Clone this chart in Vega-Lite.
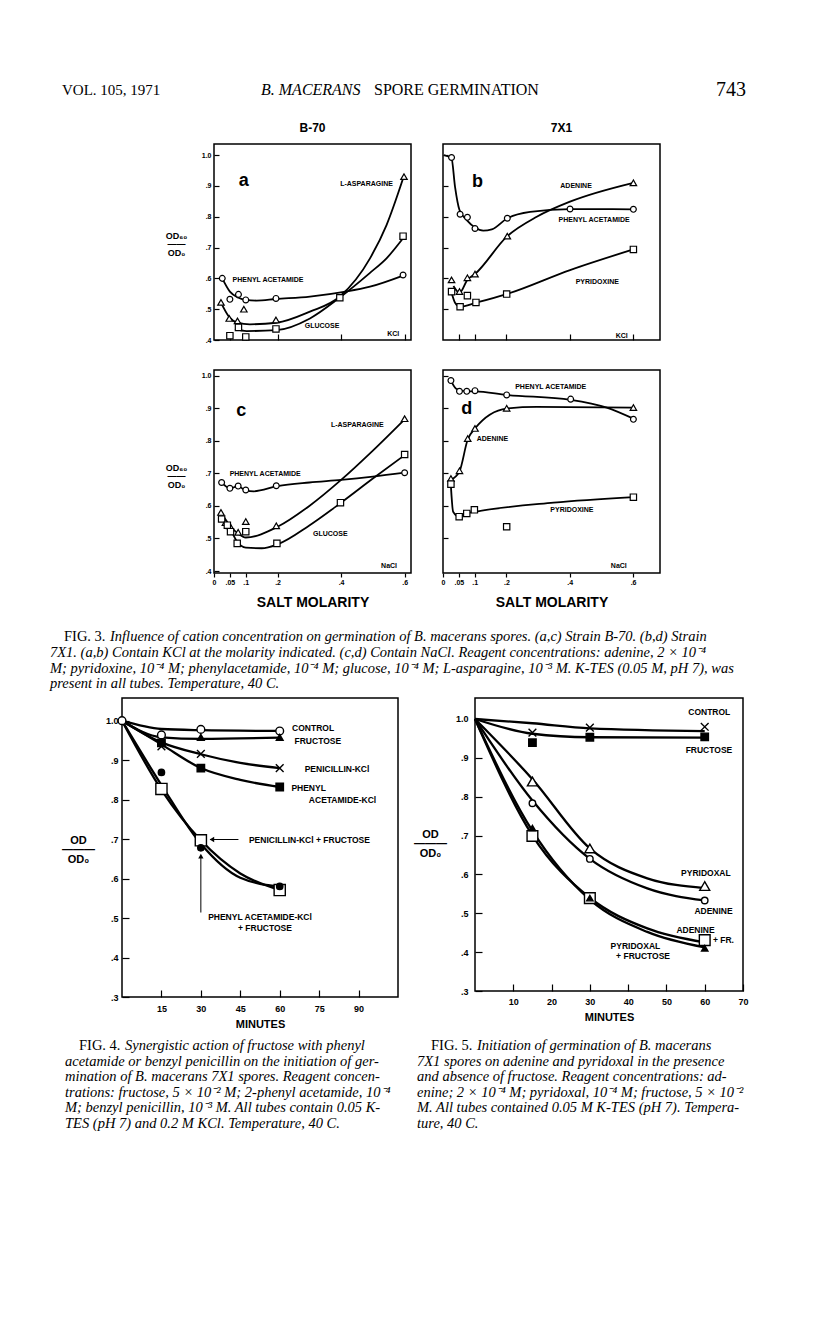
{
  "$schema": "https://vega.github.io/schema/vega-lite/v6.json",
  "background": "white",
  "padding": 0,
  "config": {
    "font": "Liberation Sans",
    "view": {"stroke": "black", "strokeWidth": 1.5},
    "axis": {"grid": false, "domain": false, "tickColor": "black", "tickWidth": 1.2, "labelColor": "black", "titleColor": "black", "labelFont": "Liberation Sans", "labelFontWeight": "bold", "titleFont": "Liberation Sans", "titleFontWeight": "bold"},
    "title": {"color": "black"}
  },
  "datasets": {
    "fit3": [
      {"p":"a","s":"PA","x":0.026,"y":0.600},{"p":"a","s":"PA","x":0.050,"y":0.557},{"p":"a","s":"PA","x":0.077,"y":0.537},{"p":"a","s":"PA","x":0.100,"y":0.530},{"p":"a","s":"PA","x":0.134,"y":0.528},{"p":"a","s":"PA","x":0.195,"y":0.533},{"p":"a","s":"PA","x":0.302,"y":0.541},{"p":"a","s":"PA","x":0.414,"y":0.557},{"p":"a","s":"PA","x":0.491,"y":0.573},{"p":"a","s":"PA","x":0.595,"y":0.609},
      {"p":"a","s":"LA","x":0.022,"y":0.521},{"p":"a","s":"LA","x":0.048,"y":0.474},{"p":"a","s":"LA","x":0.074,"y":0.456},{"p":"a","s":"LA","x":0.113,"y":0.451},{"p":"a","s":"LA","x":0.197,"y":0.456},{"p":"a","s":"LA","x":0.302,"y":0.492},{"p":"a","s":"LA","x":0.396,"y":0.541},{"p":"a","s":"LA","x":0.491,"y":0.665},{"p":"a","s":"LA","x":0.543,"y":0.773},{"p":"a","s":"LA","x":0.595,"y":0.924},
      {"p":"a","s":"GL","x":0.066,"y":0.435},{"p":"a","s":"GL","x":0.103,"y":0.429},{"p":"a","s":"GL","x":0.197,"y":0.432},{"p":"a","s":"GL","x":0.302,"y":0.470},{"p":"a","s":"GL","x":0.396,"y":0.538},{"p":"a","s":"GL","x":0.491,"y":0.618},{"p":"a","s":"GL","x":0.543,"y":0.665},{"p":"a","s":"GL","x":0.595,"y":0.730},
      {"p":"b","s":"PA","x":0.003,"y":1.0},{"p":"b","s":"PA","x":0.027,"y":0.989},{"p":"b","s":"PA","x":0.038,"y":0.897},{"p":"b","s":"PA","x":0.052,"y":0.822},{"p":"b","s":"PA","x":0.075,"y":0.789},{"p":"b","s":"PA","x":0.101,"y":0.765},{"p":"b","s":"PA","x":0.127,"y":0.755},{"p":"b","s":"PA","x":0.154,"y":0.759},{"p":"b","s":"PA","x":0.203,"y":0.795},{"p":"b","s":"PA","x":0.275,"y":0.816},{"p":"b","s":"PA","x":0.401,"y":0.825},{"p":"b","s":"PA","x":0.601,"y":0.824},
      {"p":"b","s":"AD","x":0.033,"y":0.575},{"p":"b","s":"AD","x":0.052,"y":0.553},{"p":"b","s":"AD","x":0.077,"y":0.595},{"p":"b","s":"AD","x":0.101,"y":0.614},{"p":"b","s":"AD","x":0.203,"y":0.737},{"p":"b","s":"AD","x":0.296,"y":0.800},{"p":"b","s":"AD","x":0.401,"y":0.849},{"p":"b","s":"AD","x":0.601,"y":0.910},
      {"p":"b","s":"PY","x":0.027,"y":0.554},{"p":"b","s":"PY","x":0.038,"y":0.521},{"p":"b","s":"PY","x":0.054,"y":0.508},{"p":"b","s":"PY","x":0.104,"y":0.521},{"p":"b","s":"PY","x":0.201,"y":0.549},{"p":"b","s":"PY","x":0.401,"y":0.627},{"p":"b","s":"PY","x":0.601,"y":0.694},
      {"p":"c","s":"PA","x":0.024,"y":0.672},{"p":"c","s":"PA","x":0.050,"y":0.654},{"p":"c","s":"PA","x":0.076,"y":0.661},{"p":"c","s":"PA","x":0.100,"y":0.647},{"p":"c","s":"PA","x":0.125,"y":0.645},{"p":"c","s":"PA","x":0.200,"y":0.661},{"p":"c","s":"PA","x":0.300,"y":0.672},{"p":"c","s":"PA","x":0.400,"y":0.680},{"p":"c","s":"PA","x":0.500,"y":0.690},{"p":"c","s":"PA","x":0.600,"y":0.702},
      {"p":"c","s":"LA","x":0.022,"y":0.580},{"p":"c","s":"LA","x":0.050,"y":0.540},{"p":"c","s":"LA","x":0.076,"y":0.515},{"p":"c","s":"LA","x":0.100,"y":0.503},{"p":"c","s":"LA","x":0.200,"y":0.536},{"p":"c","s":"LA","x":0.300,"y":0.600},{"p":"c","s":"LA","x":0.400,"y":0.680},{"p":"c","s":"LA","x":0.500,"y":0.770},{"p":"c","s":"LA","x":0.600,"y":0.866},
      {"p":"c","s":"GL","x":0.024,"y":0.557},{"p":"c","s":"GL","x":0.050,"y":0.530},{"p":"c","s":"GL","x":0.073,"y":0.490},{"p":"c","s":"GL","x":0.100,"y":0.472},{"p":"c","s":"GL","x":0.150,"y":0.470},{"p":"c","s":"GL","x":0.200,"y":0.482},{"p":"c","s":"GL","x":0.300,"y":0.540},{"p":"c","s":"GL","x":0.400,"y":0.610},{"p":"c","s":"GL","x":0.500,"y":0.684},{"p":"c","s":"GL","x":0.600,"y":0.756},
      {"p":"d","s":"PA","x":0.025,"y":0.985},{"p":"d","s":"PA","x":0.043,"y":0.959},{"p":"d","s":"PA","x":0.075,"y":0.952},{"p":"d","s":"PA","x":0.101,"y":0.952},{"p":"d","s":"PA","x":0.201,"y":0.941},{"p":"d","s":"PA","x":0.403,"y":0.926},{"p":"d","s":"PA","x":0.517,"y":0.902},{"p":"d","s":"PA","x":0.601,"y":0.868},
      {"p":"d","s":"AD","x":0.025,"y":0.680},{"p":"d","s":"AD","x":0.052,"y":0.706},{"p":"d","s":"AD","x":0.078,"y":0.804},{"p":"d","s":"AD","x":0.101,"y":0.838},{"p":"d","s":"AD","x":0.201,"y":0.899},{"p":"d","s":"AD","x":0.296,"y":0.904},{"p":"d","s":"AD","x":0.601,"y":0.902},
      {"p":"d","s":"PY","x":0.025,"y":0.660},{"p":"d","s":"PY","x":0.032,"y":0.582},{"p":"d","s":"PY","x":0.051,"y":0.567},{"p":"d","s":"PY","x":0.075,"y":0.577},{"p":"d","s":"PY","x":0.101,"y":0.582},{"p":"d","s":"PY","x":0.349,"y":0.610},{"p":"d","s":"PY","x":0.601,"y":0.627}
    ],
    "pts3": [
      {"p":"a","s":"PA","x":0.026,"y":0.600},{"p":"a","s":"PA","x":0.050,"y":0.532},{"p":"a","s":"PA","x":0.077,"y":0.548},{"p":"a","s":"PA","x":0.100,"y":0.530},{"p":"a","s":"PA","x":0.195,"y":0.535},{"p":"a","s":"PA","x":0.595,"y":0.611},
      {"p":"a","s":"LA","x":0.022,"y":0.522},{"p":"a","s":"LA","x":0.048,"y":0.470},{"p":"a","s":"LA","x":0.074,"y":0.462},{"p":"a","s":"LA","x":0.094,"y":0.500},{"p":"a","s":"LA","x":0.195,"y":0.465},{"p":"a","s":"LA","x":0.598,"y":0.930},
      {"p":"a","s":"GL","x":0.050,"y":0.414},{"p":"a","s":"GL","x":0.077,"y":0.441},{"p":"a","s":"GL","x":0.100,"y":0.410},{"p":"a","s":"GL","x":0.195,"y":0.436},{"p":"a","s":"GL","x":0.396,"y":0.537},{"p":"a","s":"GL","x":0.595,"y":0.737},
      {"p":"b","s":"PA","x":0.027,"y":0.992},{"p":"b","s":"PA","x":0.054,"y":0.808},{"p":"b","s":"PA","x":0.077,"y":0.798},{"p":"b","s":"PA","x":0.101,"y":0.762},{"p":"b","s":"PA","x":0.203,"y":0.795},{"p":"b","s":"PA","x":0.401,"y":0.825},{"p":"b","s":"PA","x":0.601,"y":0.824},
      {"p":"b","s":"AD","x":0.027,"y":0.595},{"p":"b","s":"AD","x":0.052,"y":0.557},{"p":"b","s":"AD","x":0.077,"y":0.602},{"p":"b","s":"AD","x":0.101,"y":0.614},{"p":"b","s":"AD","x":0.203,"y":0.737},{"p":"b","s":"AD","x":0.601,"y":0.910},
      {"p":"b","s":"PY","x":0.027,"y":0.557},{"p":"b","s":"PY","x":0.054,"y":0.508},{"p":"b","s":"PY","x":0.077,"y":0.544},{"p":"b","s":"PY","x":0.104,"y":0.522},{"p":"b","s":"PY","x":0.201,"y":0.549},{"p":"b","s":"PY","x":0.601,"y":0.694},
      {"p":"c","s":"PA","x":0.024,"y":0.672},{"p":"c","s":"PA","x":0.050,"y":0.654},{"p":"c","s":"PA","x":0.076,"y":0.661},{"p":"c","s":"PA","x":0.100,"y":0.649},{"p":"c","s":"PA","x":0.196,"y":0.662},{"p":"c","s":"PA","x":0.600,"y":0.702},
      {"p":"c","s":"LA","x":0.022,"y":0.580},{"p":"c","s":"LA","x":0.036,"y":0.549},{"p":"c","s":"LA","x":0.050,"y":0.539},{"p":"c","s":"LA","x":0.076,"y":0.519},{"p":"c","s":"LA","x":0.100,"y":0.552},{"p":"c","s":"LA","x":0.196,"y":0.539},{"p":"c","s":"LA","x":0.600,"y":0.868},
      {"p":"c","s":"GL","x":0.024,"y":0.560},{"p":"c","s":"GL","x":0.042,"y":0.541},{"p":"c","s":"GL","x":0.052,"y":0.521},{"p":"c","s":"GL","x":0.073,"y":0.485},{"p":"c","s":"GL","x":0.100,"y":0.521},{"p":"c","s":"GL","x":0.198,"y":0.485},{"p":"c","s":"GL","x":0.398,"y":0.610},{"p":"c","s":"GL","x":0.600,"y":0.758},
      {"p":"d","s":"PA","x":0.025,"y":0.985},{"p":"d","s":"PA","x":0.052,"y":0.952},{"p":"d","s":"PA","x":0.075,"y":0.952},{"p":"d","s":"PA","x":0.101,"y":0.954},{"p":"d","s":"PA","x":0.201,"y":0.941},{"p":"d","s":"PA","x":0.403,"y":0.928},{"p":"d","s":"PA","x":0.601,"y":0.866},
      {"p":"d","s":"AD","x":0.025,"y":0.684},{"p":"d","s":"AD","x":0.052,"y":0.708},{"p":"d","s":"AD","x":0.078,"y":0.807},{"p":"d","s":"AD","x":0.101,"y":0.838},{"p":"d","s":"AD","x":0.201,"y":0.900},{"p":"d","s":"AD","x":0.601,"y":0.902},
      {"p":"d","s":"PY","x":0.025,"y":0.667},{"p":"d","s":"PY","x":0.051,"y":0.567},{"p":"d","s":"PY","x":0.075,"y":0.577},{"p":"d","s":"PY","x":0.099,"y":0.588},{"p":"d","s":"PY","x":0.201,"y":0.536},{"p":"d","s":"PY","x":0.601,"y":0.627}
    ],
    "lab3": [
      {"p":"a","t":"L-ASPARAGINE","x":0.48,"y":0.905},{"p":"a","t":"PHENYL ACETAMIDE","x":0.17,"y":0.595},{"p":"a","t":"GLUCOSE","x":0.34,"y":0.445},{"p":"a","t":"KCl","x":0.564,"y":0.419},
      {"p":"b","t":"ADENINE","x":0.42,"y":0.9},{"p":"b","t":"PHENYL ACETAMIDE","x":0.477,"y":0.789},{"p":"b","t":"PYRIDOXINE","x":0.487,"y":0.587},{"p":"b","t":"KCl","x":0.564,"y":0.413},
      {"p":"c","t":"L-ASPARAGINE","x":0.451,"y":0.849},{"p":"c","t":"PHENYL ACETAMIDE","x":0.161,"y":0.697},{"p":"c","t":"GLUCOSE","x":0.366,"y":0.514},{"p":"c","t":"NaCl","x":0.551,"y":0.417},
      {"p":"d","t":"PHENYL ACETAMIDE","x":0.34,"y":0.966},{"p":"d","t":"ADENINE","x":0.156,"y":0.807},{"p":"d","t":"PYRIDOXINE","x":0.407,"y":0.588},{"p":"d","t":"NaCl","x":0.555,"y":0.414}
    ],
    "let3": [
      {"p":"a","t":"a","x":0.094,"y":0.916},{"p":"b","t":"b","x":0.109,"y":0.914},{"p":"c","t":"c","x":0.086,"y":0.891},{"p":"d","t":"d","x":0.075,"y":0.897}
    ],
    "fit4": [
      {"s":"CTL","x":0,"y":1.0},{"s":"CTL","x":15,"y":0.979},{"s":"CTL","x":30,"y":0.976},{"s":"CTL","x":60,"y":0.974},
      {"s":"FRU","x":0,"y":1.0},{"s":"FRU","x":15,"y":0.958},{"s":"FRU","x":30,"y":0.954},{"s":"FRU","x":60,"y":0.957},
      {"s":"PEN","x":0,"y":1.0},{"s":"PEN","x":15,"y":0.945},{"s":"PEN","x":30,"y":0.915},{"s":"PEN","x":45,"y":0.893},{"s":"PEN","x":60,"y":0.88},
      {"s":"PAK","x":0,"y":1.0},{"s":"PAK","x":15,"y":0.94},{"s":"PAK","x":30,"y":0.88},{"s":"PAK","x":45,"y":0.85},{"s":"PAK","x":60,"y":0.832},
      {"s":"PENF","x":0,"y":1.0},{"s":"PENF","x":15,"y":0.825},{"s":"PENF","x":30,"y":0.697},{"s":"PENF","x":45,"y":0.613},{"s":"PENF","x":60,"y":0.571},
      {"s":"PAKF","x":0,"y":1.0},{"s":"PAKF","x":15,"y":0.837},{"s":"PAKF","x":30,"y":0.688},{"s":"PAKF","x":45,"y":0.602},{"s":"PAKF","x":60,"y":0.58}
    ],
    "pts4": [
      {"s":"CTL","x":0,"y":1.0},{"s":"CTL","x":15,"y":0.964},{"s":"CTL","x":30,"y":0.978},{"s":"CTL","x":60,"y":0.974},
      {"s":"FRU","x":30,"y":0.958},{"s":"FRU","x":60,"y":0.958},
      {"s":"PEN","x":15,"y":0.935},{"s":"PEN","x":30,"y":0.916},{"s":"PEN","x":60,"y":0.88},
      {"s":"PAK","x":15,"y":0.944},{"s":"PAK","x":30,"y":0.88},{"s":"PAK","x":60,"y":0.832},
      {"s":"PENF","x":15,"y":0.827},{"s":"PENF","x":30,"y":0.697},{"s":"PENF","x":60,"y":0.571},
      {"s":"PAKF","x":15,"y":0.869},{"s":"PAKF","x":30,"y":0.678},{"s":"PAKF","x":60,"y":0.58}
    ],
    "lab4": [
      {"t":"CONTROL","x":72.7,"y":0.982},{"t":"FRUCTOSE","x":74.5,"y":0.949},{"t":"PENICILLIN-KCl","x":81.8,"y":0.877},{"t":"PHENYL","x":71.0,"y":0.829},{"t":"ACETAMIDE-KCl","x":83.9,"y":0.8},{"t":"PENICILLIN-KCl + FRUCTOSE","x":71.3,"y":0.699},{"t":"PHENYL ACETAMIDE-KCl","x":52.5,"y":0.503},{"t":"+ FRUCTOSE","x":54.4,"y":0.476}
    ],
    "fit5": [
      {"s":"C5","x":0,"y":1.0},{"s":"C5","x":15,"y":0.989},{"s":"C5","x":30,"y":0.976},{"s":"C5","x":60,"y":0.969},
      {"s":"F5","x":0,"y":1.0},{"s":"F5","x":15,"y":0.962},{"s":"F5","x":30,"y":0.953},{"s":"F5","x":60,"y":0.952},
      {"s":"PYR","x":0,"y":1.0},{"s":"PYR","x":15,"y":0.845},{"s":"PYR","x":30,"y":0.667},{"s":"PYR","x":45,"y":0.59},{"s":"PYR","x":60,"y":0.565},
      {"s":"ADE","x":0,"y":1.0},{"s":"ADE","x":15,"y":0.79},{"s":"ADE","x":30,"y":0.64},{"s":"ADE","x":45,"y":0.564},{"s":"ADE","x":60,"y":0.533},
      {"s":"ADEF","x":0,"y":1.0},{"s":"ADEF","x":15,"y":0.70},{"s":"ADEF","x":30,"y":0.54},{"s":"ADEF","x":45,"y":0.461},{"s":"ADEF","x":60,"y":0.425},
      {"s":"PYRF","x":0,"y":1.0},{"s":"PYRF","x":15,"y":0.712},{"s":"PYRF","x":30,"y":0.535},{"s":"PYRF","x":45,"y":0.452},{"s":"PYRF","x":60,"y":0.412}
    ],
    "pts5": [
      {"s":"C5","x":15,"y":0.965},{"s":"C5","x":30,"y":0.978},{"s":"C5","x":60,"y":0.98},
      {"s":"F5","x":15,"y":0.939},{"s":"F5","x":30,"y":0.953},{"s":"F5","x":60,"y":0.954},
      {"s":"PYR","x":15,"y":0.839},{"s":"PYR","x":30,"y":0.667},{"s":"PYR","x":60,"y":0.570},
      {"s":"ADE","x":15,"y":0.783},{"s":"ADE","x":30,"y":0.640},{"s":"ADE","x":60,"y":0.533},
      {"s":"ADEF","x":15,"y":0.699},{"s":"ADEF","x":30,"y":0.539},{"s":"ADEF","x":60,"y":0.431},
      {"s":"PYRF","x":15,"y":0.719},{"s":"PYRF","x":30,"y":0.539},{"s":"PYRF","x":60,"y":0.41}
    ],
    "lab5": [
      {"t":"CONTROL","x":61.2,"y":1.018},{"t":"FRUCTOSE","x":61.1,"y":0.92},{"t":"PYRIDOXAL","x":60.3,"y":0.604},{"t":"ADENINE","x":62.3,"y":0.507},{"t":"ADENINE","x":57.6,"y":0.457},{"t":"+ FR.","x":64.9,"y":0.431},{"t":"PYRIDOXAL","x":41.9,"y":0.417},{"t":"+ FRUCTOSE","x":43.9,"y":0.391}
    ]
  },
  "bounds": "flush",
  "spacing": 0,
  "resolve": {"scale": {"shape": "independent", "size": "independent", "fill": "independent"}},
  "vconcat": [
    {
      "width": 816, "height": 144,
      "view": {"stroke": null, "fill": "white"},
      "data": {"values": [{}]},
      "layer": [
        {"mark": {"type": "text", "x": 62, "y": 95, "align": "left", "baseline": "alphabetic", "font": "Liberation Serif", "fontSize": 15, "color": "black", "text": "VOL. 105, 1971"}},
        {"mark": {"type": "text", "x": 261, "y": 95, "align": "left", "baseline": "alphabetic", "font": "Liberation Serif", "fontStyle": "italic", "fontSize": 16, "color": "black", "text": "B. MACERANS"}},
        {"mark": {"type": "text", "x": 374, "y": 95, "align": "left", "baseline": "alphabetic", "font": "Liberation Serif", "fontSize": 16, "color": "black", "text": "SPORE GERMINATION"}},
        {"mark": {"type": "text", "x": 746, "y": 96, "align": "right", "baseline": "alphabetic", "font": "Liberation Serif", "fontSize": 20, "color": "black", "text": "743"}}
      ]
    },
    {
      "bounds": "flush", "spacing": 32,
      "resolve": {"scale": {"shape": "independent", "size": "independent", "fill": "independent"}},
      "hconcat": [
        {"width": 182, "height": 10, "view": {"stroke": null}, "data": {"values": [{}]}, "mark": {"type": "text", "text": " "}},
        {
          "width": 197, "height": 196,
          "title": {"text": "B-70", "font": "Liberation Sans", "fontSize": 12, "fontWeight": "bold", "offset": 9, "color": "black"},
          "encoding": {
            "x": {"field": "x", "type": "quantitative", "scale": {"domain": [0, 0.62], "nice": false, "zero": false}, "axis": {"values": [0.05, 0.1, 0.2, 0.4, 0.6], "labels": false, "tickSize": -6, "title": null}},
            "y": {"field": "y", "type": "quantitative", "scale": {"domain": [0.4, 1.036], "nice": false, "zero": false}, "axis": {"values": [0.4, 0.5, 0.6, 0.7, 0.8, 0.9, 1.0], "labelExpr": "replace(format(datum.value, '.1f'), '0.', '.')", "labelFontSize": 7, "tickSize": -5, "labelPadding": 8, "title": ["OD₆₀", "——", "OD₀"], "titleAngle": 0, "titleX": -38, "titleY": 91, "titleAlign": "center", "titleBaseline": "middle", "titleFontSize": 9, "titleLineHeight": 8.5}}
          },
          "layer": [
            {"data": {"name": "fit3"}, "transform": [{"filter": "datum.p === 'a'"}], "mark": {"type": "line", "interpolate": "monotone", "color": "black", "strokeWidth": 1.8}, "encoding": {"detail": {"field": "s"}}},
            {"data": {"name": "pts3"}, "transform": [{"filter": "datum.p === 'a'"}], "mark": {"type": "point", "filled": true, "fill": "white", "stroke": "black", "strokeWidth": 1.2, "opacity": 1},
             "encoding": {"shape": {"field": "s", "type": "nominal", "scale": {"domain": ["PA", "LA", "GL", "AD", "PY"], "range": ["circle", "triangle-up", "square", "triangle-up", "square"]}, "legend": null},
                          "size": {"field": "s", "type": "nominal", "scale": {"type": "ordinal", "domain": ["PA", "LA", "GL", "AD", "PY"], "range": [34, 42, 40, 42, 40]}, "legend": null}}},
            {"data": {"name": "lab3"}, "transform": [{"filter": "datum.p === 'a'"}], "mark": {"type": "text", "font": "Liberation Sans", "fontSize": 7, "fontWeight": "bold", "color": "black"}, "encoding": {"text": {"field": "t"}}},
            {"data": {"name": "let3"}, "transform": [{"filter": "datum.p === 'a'"}], "mark": {"type": "text", "font": "Liberation Sans", "fontSize": 18, "fontWeight": "bold", "color": "black"}, "encoding": {"text": {"field": "t"}}}
          ]
        },
        {
          "width": 217, "height": 196,
          "title": {"text": "7X1", "font": "Liberation Sans", "fontSize": 12, "fontWeight": "bold", "offset": 9, "dx": 10, "color": "black"},
          "encoding": {
            "x": {"field": "x", "type": "quantitative", "scale": {"domain": [0, 0.685], "nice": false, "zero": false}, "axis": {"values": [0.05, 0.1, 0.2, 0.4, 0.6], "labels": false, "tickSize": -6, "title": null}},
            "y": {"field": "y", "type": "quantitative", "scale": {"domain": [0.4, 1.036], "nice": false, "zero": false}, "axis": {"values": [0.5, 0.6, 0.7, 0.8, 0.9, 1.0], "labels": false, "tickSize": -5, "title": null}}
          },
          "layer": [
            {"data": {"name": "fit3"}, "transform": [{"filter": "datum.p === 'b'"}], "mark": {"type": "line", "interpolate": "monotone", "color": "black", "strokeWidth": 1.8}, "encoding": {"detail": {"field": "s"}}},
            {"data": {"name": "pts3"}, "transform": [{"filter": "datum.p === 'b'"}], "mark": {"type": "point", "filled": true, "fill": "white", "stroke": "black", "strokeWidth": 1.2, "opacity": 1},
             "encoding": {"shape": {"field": "s", "type": "nominal", "scale": {"domain": ["PA", "LA", "GL", "AD", "PY"], "range": ["circle", "triangle-up", "square", "triangle-up", "square"]}, "legend": null},
                          "size": {"field": "s", "type": "nominal", "scale": {"type": "ordinal", "domain": ["PA", "LA", "GL", "AD", "PY"], "range": [34, 42, 40, 42, 40]}, "legend": null}}},
            {"data": {"name": "lab3"}, "transform": [{"filter": "datum.p === 'b'"}], "mark": {"type": "text", "font": "Liberation Sans", "fontSize": 7, "fontWeight": "bold", "color": "black"}, "encoding": {"text": {"field": "t"}}},
            {"data": {"name": "let3"}, "transform": [{"filter": "datum.p === 'b'"}], "mark": {"type": "text", "font": "Liberation Sans", "fontSize": 18, "fontWeight": "bold", "color": "black"}, "encoding": {"text": {"field": "t"}}}
          ]
        }
      ]
    },
    {"width": 1, "height": 226, "view": {"stroke": null}, "data": {"values": [{}]}, "mark": {"type": "text", "text": " "}},
    {
      "bounds": "flush", "spacing": 32,
      "resolve": {"scale": {"shape": "independent", "size": "independent", "fill": "independent"}},
      "hconcat": [
        {"width": 182, "height": 10, "view": {"stroke": null}, "data": {"values": [{}]}, "mark": {"type": "text", "text": " "}},
        {
          "width": 197, "height": 203,
          "encoding": {
            "x": {"field": "x", "type": "quantitative", "scale": {"domain": [0, 0.62], "nice": false, "zero": false}, "axis": {"values": [0, 0.05, 0.1, 0.2, 0.4, 0.6], "labelExpr": "datum.value == 0 ? '0' : replace(format(datum.value, '.2~f'), '0.', '.')", "labelFontSize": 7, "labelFlush": false, "tickSize": 4, "labelPadding": 1, "title": "SALT MOLARITY", "titleFontSize": 14, "titlePadding": 10}},
            "y": {"field": "y", "type": "quantitative", "scale": {"domain": [0.394, 1.0175], "nice": false, "zero": false}, "axis": {"values": [0.4, 0.5, 0.6, 0.7, 0.8, 0.9, 1.0], "labelExpr": "replace(format(datum.value, '.1f'), '0.', '.')", "labelFontSize": 7, "tickSize": -5, "labelPadding": 8, "title": ["OD₆₀", "——", "OD₀"], "titleAngle": 0, "titleX": -38, "titleY": 97, "titleAlign": "center", "titleBaseline": "middle", "titleFontSize": 9, "titleLineHeight": 8.5}}
          },
          "layer": [
            {"data": {"name": "fit3"}, "transform": [{"filter": "datum.p === 'c'"}], "mark": {"type": "line", "interpolate": "monotone", "color": "black", "strokeWidth": 1.8}, "encoding": {"detail": {"field": "s"}}},
            {"data": {"name": "pts3"}, "transform": [{"filter": "datum.p === 'c'"}], "mark": {"type": "point", "filled": true, "fill": "white", "stroke": "black", "strokeWidth": 1.2, "opacity": 1},
             "encoding": {"shape": {"field": "s", "type": "nominal", "scale": {"domain": ["PA", "LA", "GL", "AD", "PY"], "range": ["circle", "triangle-up", "square", "triangle-up", "square"]}, "legend": null},
                          "size": {"field": "s", "type": "nominal", "scale": {"type": "ordinal", "domain": ["PA", "LA", "GL", "AD", "PY"], "range": [34, 42, 40, 42, 40]}, "legend": null}}},
            {"data": {"name": "lab3"}, "transform": [{"filter": "datum.p === 'c'"}], "mark": {"type": "text", "font": "Liberation Sans", "fontSize": 7, "fontWeight": "bold", "color": "black"}, "encoding": {"text": {"field": "t"}}},
            {"data": {"name": "let3"}, "transform": [{"filter": "datum.p === 'c'"}], "mark": {"type": "text", "font": "Liberation Sans", "fontSize": 18, "fontWeight": "bold", "color": "black"}, "encoding": {"text": {"field": "t"}}}
          ]
        },
        {
          "width": 217, "height": 203,
          "encoding": {
            "x": {"field": "x", "type": "quantitative", "scale": {"domain": [0, 0.685], "nice": false, "zero": false}, "axis": {"values": [0, 0.05, 0.1, 0.2, 0.4, 0.6], "labelExpr": "datum.value == 0 ? '0' : replace(format(datum.value, '.2~f'), '0.', '.')", "labelFontSize": 7, "labelFlush": false, "tickSize": 4, "labelPadding": 1, "title": "SALT MOLARITY", "titleFontSize": 14, "titlePadding": 10}},
            "y": {"field": "y", "type": "quantitative", "scale": {"domain": [0.394, 1.0175], "nice": false, "zero": false}, "axis": {"values": [0.5, 0.6, 0.7, 0.8, 0.9, 1.0], "labels": false, "tickSize": -5, "title": null}}
          },
          "layer": [
            {"data": {"name": "fit3"}, "transform": [{"filter": "datum.p === 'd'"}], "mark": {"type": "line", "interpolate": "monotone", "color": "black", "strokeWidth": 1.8}, "encoding": {"detail": {"field": "s"}}},
            {"data": {"name": "pts3"}, "transform": [{"filter": "datum.p === 'd'"}], "mark": {"type": "point", "filled": true, "fill": "white", "stroke": "black", "strokeWidth": 1.2, "opacity": 1},
             "encoding": {"shape": {"field": "s", "type": "nominal", "scale": {"domain": ["PA", "LA", "GL", "AD", "PY"], "range": ["circle", "triangle-up", "square", "triangle-up", "square"]}, "legend": null},
                          "size": {"field": "s", "type": "nominal", "scale": {"type": "ordinal", "domain": ["PA", "LA", "GL", "AD", "PY"], "range": [34, 42, 40, 42, 40]}, "legend": null}}},
            {"data": {"name": "lab3"}, "transform": [{"filter": "datum.p === 'd'"}], "mark": {"type": "text", "font": "Liberation Sans", "fontSize": 7, "fontWeight": "bold", "color": "black"}, "encoding": {"text": {"field": "t"}}},
            {"data": {"name": "let3"}, "transform": [{"filter": "datum.p === 'd'"}], "mark": {"type": "text", "font": "Liberation Sans", "fontSize": 18, "fontWeight": "bold", "color": "black"}, "encoding": {"text": {"field": "t"}}}
          ]
        }
      ]
    },
    {
      "width": 816, "height": 328,
      "view": {"stroke": null},
      "data": {"values": [{}]},
      "layer": [
        {"mark": {"type": "text", "x": 64, "y": 267, "align": "left", "baseline": "middle", "font": "Liberation Serif", "fontSize": 14.5, "color": "black", "text": "FIG. 3."}},
        {"mark": {"type": "text", "x": 110, "y": 267, "align": "left", "baseline": "middle", "font": "Liberation Serif", "fontStyle": "italic", "fontSize": 14.5, "color": "black", "text": "Influence of cation concentration on germination of B. macerans spores. (a,c) Strain B-70. (b,d) Strain"}},
        {"mark": {"type": "text", "x": 50, "y": 276, "align": "left", "baseline": "top", "lineHeight": 15.7, "font": "Liberation Serif", "fontStyle": "italic", "fontSize": 14.5, "color": "black", "text": ["7X1. (a,b) Contain KCl at the molarity indicated. (c,d) Contain NaCl. Reagent concentrations: adenine, 2 × 10⁻⁴", "M; pyridoxine, 10⁻⁴ M; phenylacetamide, 10⁻⁴ M; glucose, 10⁻⁴ M; L-asparagine, 10⁻³ M. K-TES (0.05 M, pH 7), was", "present in all tubes. Temperature, 40 C."]}}
      ]
    },
    {
      "bounds": "flush", "spacing": 77,
      "resolve": {"scale": {"shape": "independent", "size": "independent", "fill": "independent"}},
      "hconcat": [
        {"width": 45, "height": 10, "view": {"stroke": null}, "data": {"values": [{}]}, "mark": {"type": "text", "text": " "}},
        {
          "width": 276, "height": 299,
          "encoding": {
            "x": {"field": "x", "type": "quantitative", "scale": {"domain": [0, 105], "nice": false, "zero": false}, "axis": {"values": [15, 30, 45, 60, 75, 90], "labelFontSize": 9, "labelFlush": false, "tickSize": -7, "labelPadding": 14, "title": "MINUTES", "titleFontSize": 11, "titlePadding": 5}},
            "y": {"field": "y", "type": "quantitative", "scale": {"domain": [0.3, 1.0575], "nice": false, "zero": false}, "axis": {"values": [0.3, 0.4, 0.5, 0.6, 0.7, 0.8, 0.9, 1.0], "labelExpr": "replace(format(datum.value, '.1f'), '0.', '.')", "labelFontSize": 9, "tickSize": -7, "labelPadding": 11, "title": ["OD", "———", "OD₀"], "titleAngle": 0, "titleX": -44, "titleY": 142, "titleAlign": "center", "titleBaseline": "middle", "titleFontSize": 11, "titleLineHeight": 9.5}}
          },
          "layer": [
            {"data": {"name": "fit4"}, "mark": {"type": "line", "interpolate": "monotone", "color": "black", "strokeWidth": 2.3}, "encoding": {"detail": {"field": "s"}}},
            {"data": {"name": "pts4"}, "mark": {"type": "point", "filled": true, "stroke": "black", "strokeWidth": 1.4, "opacity": 1},
             "encoding": {"shape": {"field": "s", "type": "nominal", "scale": {"domain": ["CTL", "FRU", "PEN", "PAK", "PENF", "PAKF"], "range": ["circle", "triangle-up", "M-1,-1L1,1M-1,1L1,-1", "square", "square", "circle"]}, "legend": null},
                          "size": {"field": "s", "type": "nominal", "scale": {"type": "ordinal", "domain": ["CTL", "FRU", "PEN", "PAK", "PENF", "PAKF"], "range": [60, 45, 60, 55, 125, 40]}, "legend": null},
                          "fill": {"field": "s", "type": "nominal", "scale": {"domain": ["CTL", "FRU", "PEN", "PAK", "PENF", "PAKF"], "range": ["white", "black", "white", "black", "white", "black"]}, "legend": null}}},
            {"data": {"values": [{"x": 33.5, "x2": 44.3, "y": 0.699, "y2": 0.699}, {"x": 30, "x2": 30, "y": 0.514, "y2": 0.655}]}, "mark": {"type": "rule", "color": "black", "strokeWidth": 1}, "encoding": {"x2": {"field": "x2"}, "y2": {"field": "y2"}}},
            {"data": {"values": [{"x": 34.2, "y": 0.699}]}, "mark": {"type": "point", "shape": "triangle-left", "filled": true, "color": "black", "size": 28, "opacity": 1}},
            {"data": {"values": [{"x": 30, "y": 0.657}]}, "mark": {"type": "point", "shape": "triangle-up", "filled": true, "color": "black", "size": 28, "opacity": 1}},
            {"data": {"name": "lab4"}, "mark": {"type": "text", "font": "Liberation Sans", "fontSize": 8.5, "fontWeight": "bold", "color": "black"}, "encoding": {"text": {"field": "t"}}}
          ]
        },
        {
          "width": 268, "height": 293,
          "encoding": {
            "x": {"field": "x", "type": "quantitative", "scale": {"domain": [0, 70], "nice": false, "zero": false}, "axis": {"values": [10, 20, 30, 40, 50, 60, 70], "labelFontSize": 9, "labelFlush": false, "tickSize": -7, "labelPadding": 13, "title": "MINUTES", "titleFontSize": 11, "titlePadding": 5}},
            "y": {"field": "y", "type": "quantitative", "scale": {"domain": [0.3, 1.054], "nice": false, "zero": false}, "axis": {"values": [0.3, 0.4, 0.5, 0.6, 0.7, 0.8, 0.9, 1.0], "labelExpr": "replace(format(datum.value, '.1f'), '0.', '.')", "labelFontSize": 9, "tickSize": -7, "labelPadding": 14, "title": ["OD", "———", "OD₀"], "titleAngle": 0, "titleX": -45, "titleY": 136, "titleAlign": "center", "titleBaseline": "middle", "titleFontSize": 11, "titleLineHeight": 9.5}}
          },
          "layer": [
            {"data": {"name": "fit5"}, "mark": {"type": "line", "interpolate": "monotone", "color": "black", "strokeWidth": 2.3}, "encoding": {"detail": {"field": "s"}}},
            {"data": {"name": "pts5"}, "mark": {"type": "point", "filled": true, "stroke": "black", "strokeWidth": 1.4, "opacity": 1},
             "encoding": {"shape": {"field": "s", "type": "nominal", "scale": {"domain": ["C5", "F5", "PYR", "ADE", "ADEF", "PYRF"], "range": ["M-1,-1L1,1M-1,1L1,-1", "square", "triangle-up", "circle", "square", "triangle-up"]}, "legend": null},
                          "size": {"field": "s", "type": "nominal", "scale": {"type": "ordinal", "domain": ["C5", "F5", "PYR", "ADE", "ADEF", "PYRF"], "range": [60, 55, 100, 42, 115, 40]}, "legend": null},
                          "fill": {"field": "s", "type": "nominal", "scale": {"domain": ["C5", "F5", "PYR", "ADE", "ADEF", "PYRF"], "range": ["white", "black", "white", "white", "white", "black"]}, "legend": null}}},
            {"data": {"name": "lab5"}, "mark": {"type": "text", "font": "Liberation Sans", "fontSize": 8.5, "fontWeight": "bold", "color": "black"}, "encoding": {"text": {"field": "t"}}}
          ]
        }
      ]
    },
    {
      "width": 816, "height": 440,
      "view": {"stroke": null},
      "data": {"values": [{}]},
      "layer": [
        {"mark": {"type": "text", "x": 79, "y": 348, "align": "left", "baseline": "middle", "font": "Liberation Serif", "fontSize": 14.5, "color": "black", "text": "FIG. 4."}},
        {"mark": {"type": "text", "x": 125, "y": 348, "align": "left", "baseline": "middle", "font": "Liberation Serif", "fontStyle": "italic", "fontSize": 14.5, "color": "black", "text": "Synergistic action of fructose with phenyl"}},
        {"mark": {"type": "text", "x": 65, "y": 356.8, "align": "left", "baseline": "top", "lineHeight": 15.5, "font": "Liberation Serif", "fontStyle": "italic", "fontSize": 14.5, "color": "black", "text": ["acetamide or benzyl penicillin on the initiation of ger-", "mination of B. macerans 7X1 spores. Reagent concen-", "trations: fructose, 5 × 10⁻² M; 2-phenyl acetamide, 10⁻⁴", "M; benzyl penicillin, 10⁻³ M. All tubes contain 0.05 K-", "TES (pH 7) and 0.2 M KCl. Temperature, 40 C."]}},
        {"mark": {"type": "text", "x": 431, "y": 348, "align": "left", "baseline": "middle", "font": "Liberation Serif", "fontSize": 14.5, "color": "black", "text": "FIG. 5."}},
        {"mark": {"type": "text", "x": 477, "y": 348, "align": "left", "baseline": "middle", "font": "Liberation Serif", "fontStyle": "italic", "fontSize": 14.5, "color": "black", "text": "Initiation of germination of B. macerans"}},
        {"mark": {"type": "text", "x": 417, "y": 356.8, "align": "left", "baseline": "top", "lineHeight": 15.5, "font": "Liberation Serif", "fontStyle": "italic", "fontSize": 14.5, "color": "black", "text": ["7X1 spores on adenine and pyridoxal in the presence", "and absence of fructose. Reagent concentrations: ad-", "enine; 2 × 10⁻⁴ M; pyridoxal, 10⁻⁴ M; fructose, 5 × 10⁻²", "M. All tubes contained 0.05 M K-TES (pH 7). Tempera-", "ture, 40 C."]}}
      ]
    }
  ]
}
